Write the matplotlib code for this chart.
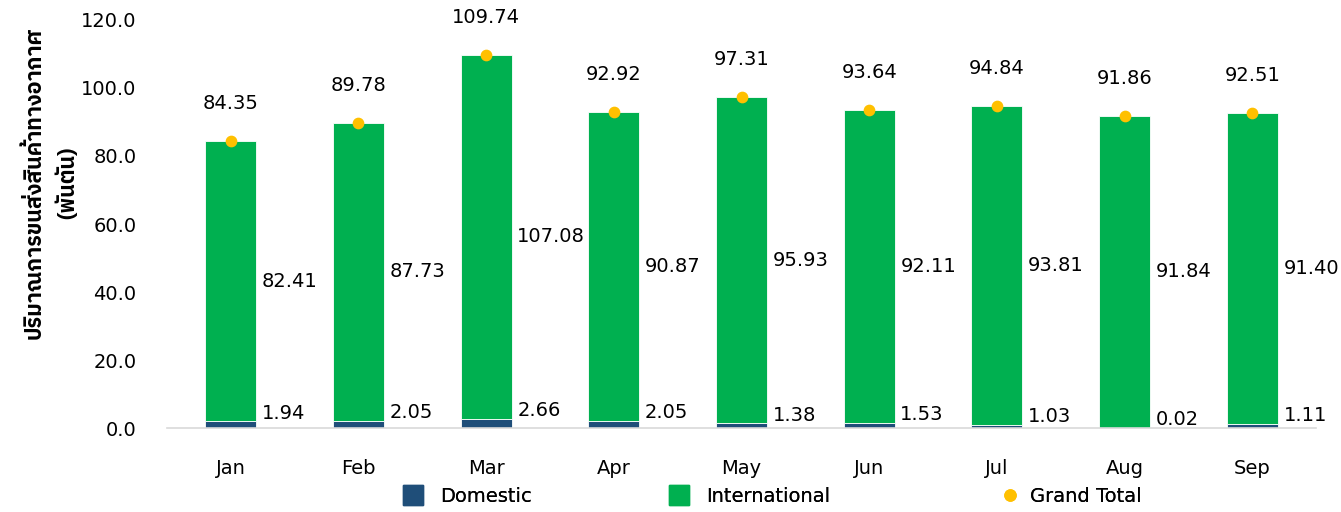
import matplotlib

matplotlib.use("Agg")
import matplotlib.pyplot as plt
from matplotlib import font_manager
from matplotlib.lines import Line2D
import numpy as np


months = ["Jan", "Feb", "Mar", "Apr", "May", "Jun", "Jul", "Aug", "Sep"]
domestic = [1.94, 2.05, 2.66, 2.05, 1.38, 1.53, 1.03, 0.02, 1.11]
international = [82.41, 87.73, 107.08, 90.87, 95.93, 92.11, 93.81, 91.84, 91.40]
grand_total = [84.35, 89.78, 109.74, 92.92, 97.31, 93.64, 94.84, 91.86, 92.51]
y_ticks = [0, 20, 40, 60, 80, 100, 120]
y_label = "ปริมาณการขนส่งสินค้าทางอากาศ\n(พันตัน)"
legend_labels = ["Domestic", "International", "Grand Total"]

DOM_COLOR = "#1F4E79"
INT_COLOR = "#00B050"
TOT_COLOR = "#FFC000"


def thai_families():
    names = sorted({f.name for f in font_manager.fontManager.ttflist})
    picks = [n for n in names if "Thai" in n or n in ("Tahoma", "Leelawadee UI", "Loma", "Garuda", "Sarabun")]
    return picks + ["DejaVu Sans"]


plt.rcParams["font.family"] = ["DejaVu Sans"]

fig = plt.figure(figsize=(13.41, 5.12), dpi=100)
ax = fig.add_axes([0.1245, 0.164, 0.857, 0.797])

x = np.arange(len(months))
width = 0.4
ax.bar(x, domestic, width, color=DOM_COLOR, edgecolor="white", linewidth=0.6)
ax.bar(x, international, width, bottom=domestic, color=INT_COLOR, edgecolor="white", linewidth=0.6)
ax.scatter(x, grand_total, s=55, color=TOT_COLOR, zorder=3)

for i in range(len(months)):
    ax.annotate(f"{grand_total[i]:.2f}", (x[i], grand_total[i]), xytext=(0, 27),
                textcoords="offset points", ha="center", va="center", fontsize=14)
    ax.annotate(f"{international[i]:.2f}", (x[i] + width / 2, domestic[i] + international[i] / 2),
                xytext=(4, 0), textcoords="offset points", ha="left", va="center", fontsize=14)
    ax.annotate(f"{domestic[i]:.2f}", (x[i] + width / 2, domestic[i]),
                xytext=(4, 6), textcoords="offset points", ha="left", va="center", fontsize=14)

ax.set_xlim(-0.5, len(months) - 0.5)
ax.set_ylim(0, 120)
ax.set_yticks(y_ticks)
ax.set_yticklabels([f"{v:.1f}" for v in y_ticks], fontsize=14)
ax.set_xticks(x)
ax.set_xticklabels(months, fontsize=14)
ax.tick_params(axis="both", length=0)
ax.tick_params(axis="x", pad=22)
ax.tick_params(axis="y", pad=22)
for side in ["top", "right", "left"]:
    ax.spines[side].set_visible(False)
ax.spines["bottom"].set_color("#D9D9D9")
ax.spines["bottom"].set_linewidth(1.2)

ax.set_ylabel(y_label, fontsize=15.5, fontweight="bold", family=thai_families(), linespacing=1.6)
ax.yaxis.set_label_coords(-0.077, 0.6)

handles = [
    Line2D([], [], marker="s", linestyle="none", markersize=15, color=DOM_COLOR),
    Line2D([], [], marker="s", linestyle="none", markersize=15, color=INT_COLOR),
    Line2D([], [], marker="o", linestyle="none", markersize=8, color=TOT_COLOR),
]
legend_x = [0.2935, 0.492, 0.739]
legend_pad = [0.9, 0.9, 0.5]
for handle, label, lx, pad in zip(handles, legend_labels, legend_x, legend_pad):
    leg = fig.legend([handle], [label], loc="center left", bbox_to_anchor=(lx, 0.03),
                     frameon=False, fontsize=14, handlelength=1, handletextpad=pad, borderpad=0)
    fig.add_artist(leg)

fig.savefig("out.png", dpi=100)
